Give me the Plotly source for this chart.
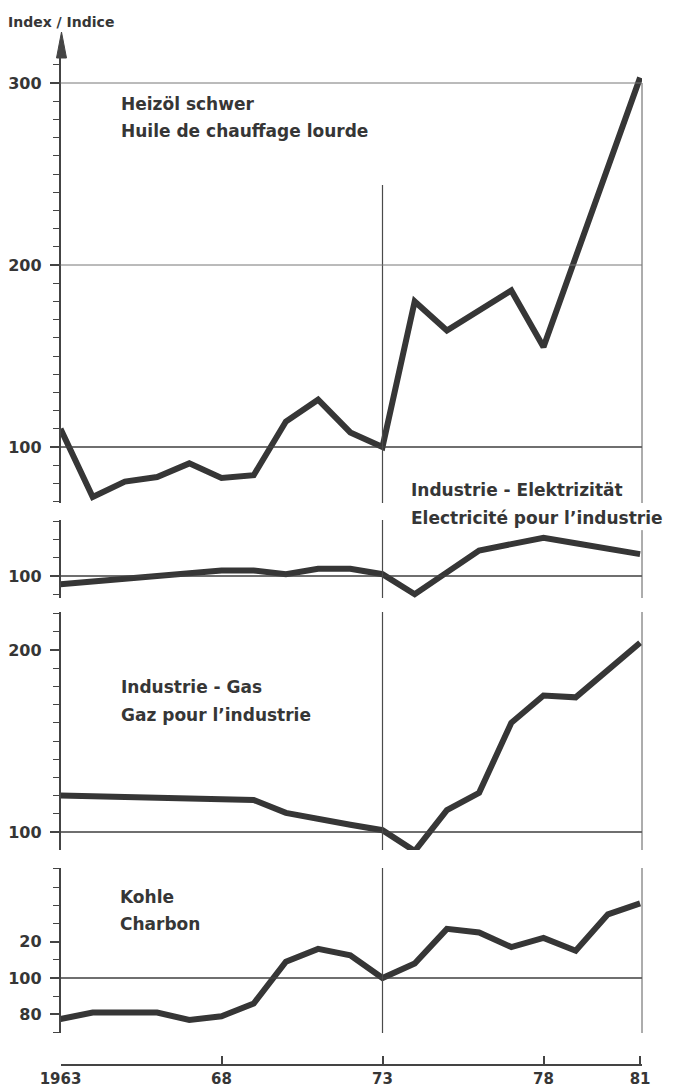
import plotly.graph_objects as go

# ---------------- data ----------------
years = list(range(1963, 1982))
heizoel = [110, 72.5, 81, 83.5, 91, 83, 84.5, 114, 126, 108, 100, 180, 164, 175, 186, 155, 205, 254, 303]
elektrizitaet = [95.5, 97, 98.5, 100, 101.5, 103, 103, 101, 104, 104, 101, 90, 102, 114, 117.5, 121, 118, 115, 112]
gas = [120, 119.5, 119, 118.7, 118.3, 118, 117.6, 110.5, 107, 104, 101, 89.5, 112, 121.5, 160, 175, 174, 189, 204]
kohle = [77.5, 81, 81, 81, 77, 79, 86, 109, 116, 112.5, 100, 108, 127, 125, 117, 122, 115, 135, 141]

x_tickvals = [1963, 1968, 1973, 1978, 1981]
x_ticktext = ["1963", "68", "73", "78", "81"]

p1_tickvals, p1_ticktext = [100, 200, 300], ["100", "200", "300"]
p2_tickvals, p2_ticktext = [100], ["100"]
p3_tickvals, p3_ticktext = [100, 200], ["100", "200"]
p4_tickvals, p4_ticktext = [80, 100, 120], ["80", "100", "20"]

titles = [
    ("Heizöl schwer", "Huile de chauffage lourde"),
    ("Industrie - Elektrizität", "Electricité pour l’industrie"),
    ("Industrie - Gas", "Gaz pour l’industrie"),
    ("Kohle", "Charbon"),
]

# ---------------- geometry / style ----------------
W, H = 685, 1088
SCALE = 1.82  # px per index unit
X0_PX, PX_PER_YEAR = 60.5, 32.2
X_RIGHT_PX = 642

def px(p):
    return p / W

def py(p):
    return 1 - p / H

INK = "#363636"
AX = "#444444"
FONT = "DejaVu Sans"

# panel pixel extents: (top_px, bottom_px, pixel of 100 line)
panels = [(55, 503, 447), (520, 598, 576), (612, 850, 832), (868, 1033, 978)]
series = [heizoel, elektrizitaet, gas, kohle]
ticks = [(p1_tickvals, p1_ticktext), (p2_tickvals, p2_ticktext),
         (p3_tickvals, p3_ticktext), (p4_tickvals, p4_ticktext)]

fig = go.Figure()
layout = dict(
    width=W, height=H,
    margin=dict(l=0, r=0, t=0, b=0, autoexpand=False),
    paper_bgcolor="white", plot_bgcolor="rgba(0,0,0,0)",
    showlegend=False,
    font=dict(family=FONT, color=INK),
)

layout["xaxis"] = dict(
    domain=[px(X0_PX), px(X_RIGHT_PX)],
    range=[1963, 1963 + (X_RIGHT_PX - X0_PX) / PX_PER_YEAR],
    anchor="free", position=py(1065),
    showline=True, linecolor=AX, linewidth=1.5,
    ticks="inside", ticklen=8, tickwidth=1.5, tickcolor=AX,
    tickmode="array", tickvals=x_tickvals, ticktext=x_ticktext,
    tickfont=dict(family=FONT, size=15, color=INK, weight="bold"),
    ticklabelstandoff=0,
    showgrid=False, zeroline=False, fixedrange=True, automargin=False,
)

shapes = []
for i, ((top, bot, ref100), vals, (tv, tt)) in enumerate(zip(panels, series, ticks)):
    name = "yaxis" if i == 0 else f"yaxis{i+1}"
    yref = "y" if i == 0 else f"y{i+1}"
    vtop = 100 + (ref100 - top) / SCALE
    vbot = 100 - (bot - ref100) / SCALE
    layout[name] = dict(
        domain=[py(bot), py(top)], range=[vbot, vtop], anchor="x",
        showline=True, linecolor=AX, linewidth=1.5,
        ticks="outside", ticklen=9, tickwidth=1.5, tickcolor=AX,
        tickmode="array", tickvals=tv, ticktext=tt,
        tickfont=dict(family=FONT, size=16, color=INK, weight="bold"),
        ticklabelstandoff=5,
        minor=dict(tickmode="linear", tick0=0, dtick=10, ticks="outside",
                   ticklen=6, tickwidth=1.2, tickcolor=AX),
        showgrid=False, zeroline=False, fixedrange=True, automargin=False,
    )
    fig.add_trace(go.Scatter(
        x=years, y=vals, mode="lines", xaxis="x", yaxis=yref,
        line=dict(color=INK, width=6), cliponaxis=False, hoverinfo="skip",
    ))
    # 100 reference line
    shapes.append(dict(type="line", xref="x domain", yref=yref, x0=0, x1=1, y0=100, y1=100,
                       line=dict(color="#3f3f3f", width=1.5)))
    # 1973 vertical line
    y0d = 0.71 if i == 0 else 1
    shapes.append(dict(type="line", xref="x", yref=f"{yref} domain", x0=1973, x1=1973,
                       y0=0, y1=y0d, line=dict(color="#4a4a4a", width=1.2)))
    # right frame line
    if i == 0:
        shapes.append(dict(type="line", xref="x domain", yref=yref, x0=1, x1=1,
                           y0=vbot, y1=300, line=dict(color="#5a5a5a", width=1)))
    elif i == 1:
        shapes.append(dict(type="line", xref="x domain", yref=f"{yref} domain", x0=1, x1=1,
                           y0=0, y1=0.87, line=dict(color="#5a5a5a", width=1)))
    else:
        shapes.append(dict(type="line", xref="x domain", yref=f"{yref} domain", x0=1, x1=1,
                           y0=0, y1=1, line=dict(color="#5a5a5a", width=1)))

# thin grid lines at 200 and 300 in top panel
for v in (200, 300):
    shapes.append(dict(type="line", xref="x domain", yref="y", x0=0, x1=1, y0=v, y1=v,
                       line=dict(color="#777777", width=1)))

# arrow head on top of the first axis
shapes.append(dict(
    type="path", xref="paper", yref="paper",
    path=f"M {px(61.5)},{py(32)} L {px(56.5)},{py(58)} L {px(66.5)},{py(58)} Z",
    fillcolor=AX, line=dict(color=AX, width=1),
))
layout["shapes"] = shapes

annotations = [dict(text="Index / Indice", x=px(6), y=py(22), xref="paper", yref="paper",
                    xanchor="left", yanchor="middle", showarrow=False,
                    font=dict(family=FONT, size=14, color=INK, weight="bold"))]
title_pos = [(119, 104, 131), (409, 490, 518), (119, 687, 715), (118, 897, 924)]
for (l1, l2), (xl, y1, y2) in zip(titles, title_pos):
    for txt, yy in ((l1, y1), (l2, y2)):
        annotations.append(dict(text=txt, x=px(xl), y=py(yy), xref="paper", yref="paper",
                                xanchor="left", yanchor="middle", showarrow=False,
                                font=dict(family=FONT, size=17, color=INK, weight="bold")))
layout["annotations"] = annotations

fig.update_layout(**layout)
fig.write_html("out.html", config={"displayModeBar": False},
               post_script="document.body.style.margin='0';")
